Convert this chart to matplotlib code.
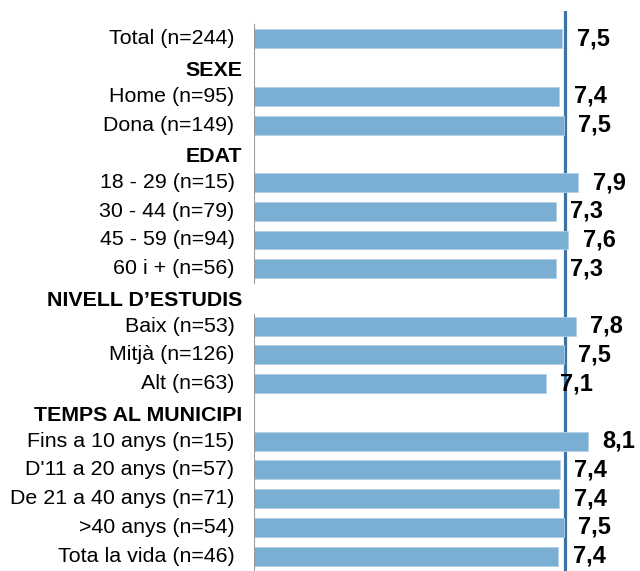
import matplotlib
matplotlib.use("Agg")
import matplotlib.pyplot as plt

# rows top to bottom; None marks a group header
labels = [
    "Total (n=244)",
    "SEXE", "Home (n=95)", "Dona (n=149)",
    "EDAT", "18 - 29 (n=15)", "30 - 44 (n=79)", "45 - 59 (n=94)", "60 i + (n=56)",
    "NIVELL D\u2019ESTUDIS", "Baix (n=53)", "Mitjà (n=126)", "Alt (n=63)",
    "TEMPS AL MUNICIPI", "Fins a 10 anys (n=15)", "D'11 a 20 anys (n=57)",
    "De 21 a 40 anys (n=71)", ">40 anys (n=54)", "Tota la vida (n=46)",
]
values = [
    7.50,
    None, 7.43, 7.54,
    None, 7.89, 7.34, 7.64, 7.34,
    None, 7.83, 7.54, 7.10,
    None, 8.13, 7.44, 7.43, 7.54, 7.40,
]
mean_value = 7.56
axis_gap_header = "NIVELL D\u2019ESTUDIS"

BAR = "#7aaed3"
LINE = "#3b74a4"

plt.rcParams["font.family"] = ["Liberation Sans", "DejaVu Sans"]

fig = plt.figure(figsize=(6.4, 5.71), dpi=100)
ax = fig.add_axes([254 / 640, 0, 369.9 / 640, 560 / 571])
ax.set_xlim(0, 9)
ax.set_ylim(18.52, -0.97)
ax.axis("off")

ax.axvline(mean_value, color=LINE, lw=2.3, zorder=1)

for i, (lab, v) in enumerate(zip(labels, values)):
    if v is None:
        ax.annotate(lab, (0, i), xytext=(-8.3, -2), textcoords="offset points",
                    ha="right", va="center", fontsize=15.4, fontweight="bold")
        continue
    ax.barh(i, v, height=0.66, color=BAR, edgecolor="#b3d0e6", lw=0.6, zorder=2)
    ax.annotate(lab, (0, i), xytext=(-14, 0), textcoords="offset points",
                ha="right", va="center", fontsize=15.4)
    ax.annotate(f"{v:.1f}".replace(".", ","), (v, i), xytext=(10.5, 0),
                textcoords="offset points", ha="left", va="center",
                fontsize=17, fontweight="bold")

# left axis line, broken at one header row
g = labels.index(axis_gap_header)
ax.plot([0, 0], [-0.5, g - 0.5], color="#9a9a9a", lw=1.5, zorder=3)
ax.plot([0, 0], [g + 0.6, 18.52], color="#9a9a9a", lw=1.5, zorder=3)

fig.savefig("out.png", dpi=100)
